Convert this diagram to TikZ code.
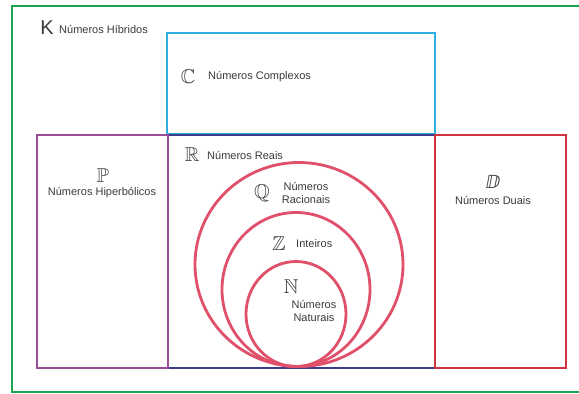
\documentclass[tikz,border=0pt]{standalone}
\usepackage{amsmath}
\usepackage{amssymb}
\usepackage{fontspec}
\setmainfont{Liberation Sans}
\newfontfamily\symfont{DejaVu Sans}
\usepackage{tikz}

\definecolor{hibgreen}{HTML}{1BA552}
\definecolor{cplxblue}{HTML}{2BB0E0}
\definecolor{hypviolet}{HTML}{9A4E95}
\definecolor{realnavy}{HTML}{3A3C8C}
\definecolor{dualred}{HTML}{D0343F}
\definecolor{setpink}{HTML}{E0506A}
\definecolor{txtgray}{HTML}{3A3A3A}

\tikzset{
  lbl/.style={text=txtgray, font=\fontsize{11}{13}\selectfont, inner sep=0pt, align=center},
  sym/.style={text=txtgray, font=\fontsize{20}{22}\selectfont, inner sep=0pt},
  frame/.style={line width=2.8pt},
  setline/.style={setpink, line width=2.8pt},
}

\begin{document}
\begin{tikzpicture}[x=1pt, y=-1pt]
  \useasboundingbox[fill=white] (0,0) rectangle (579,394);
  % ---- frames ----
  \draw[hibgreen, line width=2.4pt] (12,6) rectangle (590,392);
  \draw[frame, cplxblue] (167,33) rectangle (435,134);
  \draw[frame, realnavy] (168,135) rectangle (435,368);
  \draw[frame, hypviolet] (37,135) rectangle (168,368);
  \draw[frame, dualred] (435,135) rectangle (566,368);
  % ---- nested sets Q, Z, N ----
  \draw[setline] (299,264.5) ellipse (104 and 102);
  \draw[setline] (296,289.5) ellipse (74 and 77);
  \draw[setline] (296,314) ellipse (50 and 52.5);
  % ---- labels ----
  \node[sym] (symK) at (47,28) {$\mathrm{K}$};
  \node[lbl, anchor=west] (labK) at (59,30) {Números Híbridos};
  \node[sym] (symC) at (188,77) {$\mathbb{C}$};
  \node[lbl, anchor=west] (labC) at (208,77) {Números Complexos};
  \node[sym] (symP) at (103,176) {$\mathbb{P}$};
  \node[lbl] (labP) at (102,193) {Números Hiperbólicos};
  \node[sym] (symR) at (192,155) {$\mathbb{R}$};
  \node[lbl, anchor=west] (labR) at (207,156) {Números Reais};
  \node[sym] (symQ) at (262,193) {$\mathbb{Q}$};
  \node[lbl] (labQ) at (306,193) {Números\\Racionais};
  \node[sym] (symZ) at (279,244) {$\mathbb{Z}$};
  \node[lbl, anchor=west] (labZ) at (296,244) {Inteiros};
  \node[sym] (symN) at (291,287) {$\mathbb{N}$};
  \node[lbl] (labN) at (314,311) {Números\\Naturais};
  \node[sym, font=\fontsize{18}{20}\symfont] (symD) at (493,182) {ⅅ};
  \node[lbl] (labD) at (493,200) {Números Duais};
\end{tikzpicture}
\end{document}
